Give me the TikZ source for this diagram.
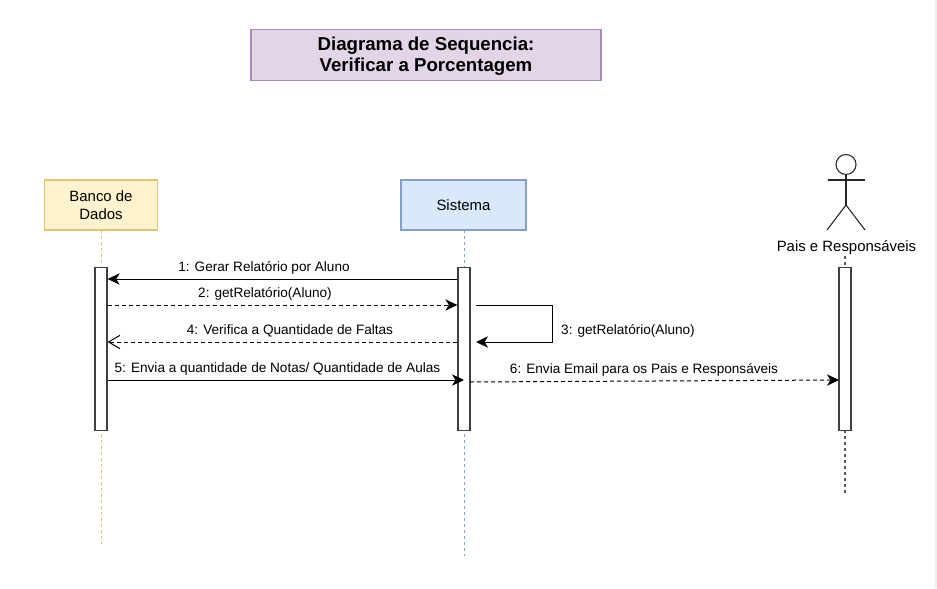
\documentclass[tikz,border=0pt]{standalone}
\usepackage{fontspec}
\setmainfont{Liberation Sans}
\usetikzlibrary{arrows.meta,calc}
\definecolor{titlefill}{HTML}{E1D5E7}
\definecolor{titleline}{HTML}{A98BB7}
\definecolor{yfill}{HTML}{FFF2CC}
\definecolor{yline}{HTML}{DFC272}
\definecolor{bfill}{HTML}{DAE8FC}
\definecolor{bline}{HTML}{82A2CC}
\definecolor{edgeright}{HTML}{EFEFEF}
\tikzset{
  x=0.75pt,y=-0.75pt,
  boxnode/.style={draw,line width=1pt,align=center,inner sep=0pt,font=\fontsize{11.2}{13.5}\selectfont},
  activation/.style={draw=black!75,fill=white,line width=0.95pt,minimum width=9pt,minimum height=121.9pt,inner sep=0pt,anchor=north},
  lifeline/.style={dash pattern=on 2.25pt off 2.25pt,line width=0.75pt},
  msg/.style={line width=0.75pt,draw=black},
  dmsg/.style={msg,dash pattern=on 3pt off 2.25pt},
  solidtip/.style={-{Stealth[length=9pt,width=8.5pt,inset=2.6pt]}},
  opentip/.style={-{Straight Barb[length=8.5pt,width=10pt]}},
  lbl/.style={font=\fontsize{10.2}{12}\selectfont,inner sep=0pt,anchor=center},
  actorline/.style={line width=0.8pt,draw=black!85}
}
\begin{document}
\begin{tikzpicture}
\useasboundingbox (0,0) rectangle (937,588);
\fill[white] (0,0) rectangle (937,588);
\fill[edgeright] (935,0) rectangle (937,588);

\node[boxnode,fill=titlefill,draw=titleline,minimum width=262.5pt,minimum height=38.25pt,font=\fontsize{14}{16}\selectfont\bfseries] (title) at (426,55) {\rule{0pt}{12pt}Diagrama de Sequencia:\\Verificar a Porcentagem};

\node[boxnode,fill=yfill,draw=yline,minimum width=84.75pt,minimum height=37.5pt] (banco) at (101,205) {Banco de\\Dados};
\node[boxnode,fill=bfill,draw=bline,minimum width=93.75pt,minimum height=37.5pt] (sistema) at (463.5,205) {Sistema};

% actor
\node[draw=black!85,line width=0.8pt,circle,minimum size=15pt,inner sep=0pt,fill=white] (head) at (846,164.5) {};
\coordinate (hip) at (846,205);
\coordinate (armL) at (828,180);
\coordinate (armR) at (865,180);
\coordinate (footL) at (827,230);
\coordinate (footR) at (865,230);
\draw[actorline] (head.south) -- (hip);
\draw[actorline] (armL) -- (armR);
\draw[actorline] (footL) -- (hip) -- (footR);
\node[font=\fontsize{11.2}{13}\selectfont,inner sep=0pt,text=black] (pais) at (846.5,248) {Pais e Responsáveis};

% lifeline end points
\coordinate (bancoEnd) at (101,544);
\coordinate (sistemaEnd) at (464,556);
\coordinate (paisEnd) at (845,493);
\coordinate (paisTop) at (845,256);

\draw[lifeline,draw=yline] (101,230) -- (bancoEnd);
\draw[lifeline,draw=bline] (464,230) -- (sistemaEnd);
\draw[lifeline,draw=black!65,line width=1pt] (paisTop) -- (paisEnd);

\node[activation] (aB) at (101,267) {};
\node[activation] (aS) at (464,267) {};
\node[activation] (aP) at (845,267) {};

% messages
\draw[msg,solidtip] (aS.north west |- 0,279) -- (aB.north east |- 0,279);
\node[lbl] (l1) at (264,268) {1: Gerar Relatório por Aluno};

\draw[dmsg,solidtip] (aB.north east |- 0,305) -- (aS.north west |- 0,305);
\node[lbl] (l2) at (265,294) {2: getRelatório(Aluno)};

\coordinate (loopA) at (476,305);
\coordinate (loopB) at (552,305);
\coordinate (loopC) at (552,342);
\coordinate (loopD) at (476,342);
\draw[msg,solidtip] (loopA) -- (loopB) -- (loopC) -- (loopD);
\node[lbl] (l3) at (628,331) {3: getRelatório(Aluno)};

\draw[dmsg,opentip] (aS.north west |- 0,342) -- (aB.north east |- 0,342);
\node[lbl] (l4) at (290,331) {4: Verifica a Quantidade de Faltas};

\draw[msg,solidtip] (aB.north east |- 0,380) -- (aS.north |- 0,380);
\node[lbl] (l5) at (277.5,369) {5: Envia a quantidade de Notas/ Quantidade de Aulas};

\coordinate (s6) at (470,382);
\coordinate (e6) at (839,380);
\draw[dmsg,solidtip] (s6) -- (e6);
\node[lbl] (l6) at (644,370) {6: Envia Email para os Pais e Responsáveis};
\end{tikzpicture}
\end{document}
